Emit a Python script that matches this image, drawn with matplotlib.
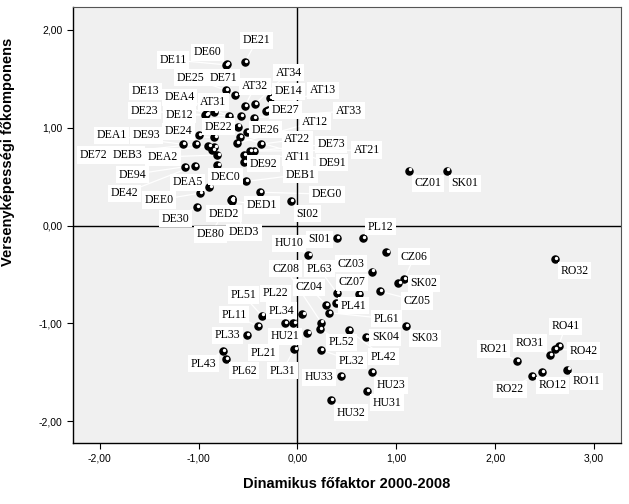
import matplotlib
matplotlib.use("Agg")
import matplotlib.pyplot as plt
from matplotlib.ticker import FuncFormatter

# region codes with their scores (x: dynamic factor, y: competitiveness component)
regions = [
    'DE21', 'DE60', 'DE11', 'DE25', 'DE71', 'AT34', 'AT32', 'DE14', 'AT13',
    'DE13', 'DEA4', 'AT31', 'DE27', 'AT33', 'DE23', 'DE12', 'AT12', 'DE22',
    'DE26', 'DEA1', 'DE93', 'DE24', 'AT22', 'DE73', 'AT21', 'DE72', 'DEB3',
    'DEA2', 'AT11', 'DE92', 'DE91', 'DEB1', 'DE94', 'DEC0', 'DEA5', 'DE42',
    'DEE0', 'DE30', 'DED2', 'DED1', 'DEG0', 'SI02', 'DE80', 'DED3', '', '',
    'CZ01', 'SK01', 'PL12', 'SI01', 'HU10', '', 'CZ06', 'CZ08', 'PL63', 'CZ03',
    'RO32', 'SK02', 'CZ07', 'CZ04', 'PL22', 'PL51', 'PL41', 'CZ05', 'PL34',
    'PL11', 'PL61', 'PL33', 'HU21', 'PL52', 'SK04', 'SK03', 'PL21', 'PL42',
    'PL43', 'PL32', 'PL62', 'PL31', 'HU33', 'HU23', 'HU31', 'HU32',
    'RO41', 'RO31', 'RO21', 'RO42', 'RO22', 'RO12', 'RO11',
]
dyn_factor = [
    -0.53, -0.71, -0.72, -0.72, -0.63, -0.43, -0.53, -0.28, -0.30,
    -0.92, -0.69, -0.84, -0.32, -0.44, -0.93, -0.57, -0.61, -0.60,
    -0.51, -1.16, -0.84, -1.00, -0.37, -0.48, -0.44, -1.03, -0.90,
    -0.81, -0.54, -0.54, -0.58, -0.52, -1.14, -0.81, -0.89, -1.04,
    -0.99, -1.02, -0.66, -0.66, -0.38, -0.07, -0.67, -0.66, -0.84, -0.86,
    1.13, 1.51, 0.66, 0.40, 0.11, 0.90, 1.08, 0.24, 0.40, 0.75,
    2.60, 1.02, 0.62, 0.29, -0.13, -0.36, 0.39, 0.83, 0.05,
    -0.40, 0.32, -0.51, 0.10, 0.23, 0.69, 1.10, -0.04, 0.52,
    -0.75, 0.24, -0.72, -0.03, 0.44, 0.75, 0.70, 0.34,
    2.64, 2.55, 2.22, 2.60, 2.37, 2.47, 2.73,
]
competitiveness = [
    1.67, 1.65, 1.64, 1.38, 1.33, 1.24, 1.22, 1.30, 1.18,
    1.14, 1.12, 1.16, 1.17, 1.10, 1.13, 1.12, 0.84, 1.01,
    0.95, 0.83, 0.90, 0.92, 0.83, 0.76, 0.76, 0.83, 0.81,
    0.72, 0.72, 0.65, 0.90, 0.45, 0.60, 0.62, 0.39, 0.61,
    0.33, 0.19, 0.27, 0.25, 0.34, 0.25, 0.26, 0.27, 0.80, 0.77,
    0.56, 0.56, -0.13, -0.13, -0.30, -0.27, -0.55, -0.99, -0.69, -0.47,
    -0.34, -0.59, -0.70, -0.81, -1.00, -0.92, -0.79, -0.67, -0.90,
    -1.03, -0.89, -1.12, -1.10, -1.06, -1.14, -1.03, -1.00, -1.07,
    -1.28, -1.27, -1.36, -1.26, -1.54, -1.50, -1.69, -1.78,
    -1.23, -1.32, -1.38, -1.26, -1.54, -1.50, -1.47,
]

# where each label box sits (data coords)
label_pos = {
    'DE21': (-0.41, 1.89), 'DE60': (-0.91, 1.77), 'DE11': (-1.26, 1.69),
    'DE25': (-1.08, 1.51), 'DE71': (-0.75, 1.51), 'AT34': (-0.09, 1.56),
    'AT32': (-0.43, 1.42), 'DE14': (-0.09, 1.37), 'AT13': (0.26, 1.38),
    'DE13': (-1.54, 1.37), 'DEA4': (-1.19, 1.31), 'AT31': (-0.85, 1.26),
    'DE27': (-0.12, 1.18), 'AT33': (0.52, 1.17), 'DE23': (-1.55, 1.17),
    'DE12': (-1.19, 1.13), 'AT12': (0.18, 1.06), 'DE22': (-0.80, 1.01),
    'DE26': (-0.32, 0.98), 'DEA1': (-1.88, 0.92), 'DE93': (-1.53, 0.92),
    'DE24': (-1.20, 0.96), 'AT22': (0.00, 0.88), 'DE73': (0.34, 0.83),
    'AT21': (0.70, 0.77), 'DE72': (-2.06, 0.72), 'DEB3': (-1.72, 0.72),
    'DEA2': (-1.36, 0.70), 'AT11': (0.00, 0.70), 'DE92': (-0.34, 0.63),
    'DE91': (0.35, 0.64), 'DEB1': (0.03, 0.52), 'DE94': (-1.67, 0.52),
    'DEC0': (-0.73, 0.50), 'DEA5': (-1.11, 0.44), 'DE42': (-1.75, 0.33),
    'DEE0': (-1.40, 0.26), 'DE30': (-1.23, 0.07), 'DED2': (-0.74, 0.12),
    'DED1': (-0.36, 0.21), 'DEG0': (0.30, 0.32), 'SI02': (0.10, 0.12),
    'DE80': (-0.88, -0.09), 'DED3': (-0.54, -0.07),
    'CZ01': (1.32, 0.43), 'SK01': (1.69, 0.43), 'PL12': (0.84, -0.01),
    'SI01': (0.22, -0.14), 'HU10': (-0.09, -0.18), 'CZ06': (1.18, -0.32),
    'CZ08': (-0.12, -0.44), 'PL63': (0.22, -0.44), 'CZ03': (0.54, -0.39),
    'RO32': (2.80, -0.46), 'SK02': (1.28, -0.59), 'CZ07': (0.55, -0.58),
    'CZ04': (0.12, -0.63), 'PL22': (-0.22, -0.69), 'PL51': (-0.55, -0.71),
    'PL41': (0.57, -0.82), 'CZ05': (1.21, -0.77), 'PL34': (-0.16, -0.87),
    'PL11': (-0.64, -0.91), 'PL61': (0.90, -0.95), 'PL33': (-0.71, -1.12),
    'HU21': (-0.13, -1.13), 'PL52': (0.45, -1.19), 'SK04': (0.89, -1.14),
    'SK03': (1.29, -1.15), 'PL21': (-0.34, -1.30), 'PL42': (0.87, -1.34),
    'PL43': (-0.95, -1.41), 'PL32': (0.55, -1.38), 'PL62': (-0.54, -1.48),
    'PL31': (-0.15, -1.48), 'HU33': (0.22, -1.55), 'HU23': (0.95, -1.63),
    'HU31': (0.91, -1.81), 'HU32': (0.54, -1.91),
    'RO41': (2.71, -1.03), 'RO31': (2.35, -1.20), 'RO21': (1.98, -1.26),
    'RO42': (2.89, -1.28), 'RO22': (2.15, -1.67), 'RO12': (2.58, -1.63),
    'RO11': (2.92, -1.59),
}

fig = plt.figure(figsize=(6.29, 5.04), dpi=100)
ax = fig.add_axes([0.116, 0.121, 0.871, 0.865])
ax.set_facecolor('#f0f0f0')

# white leader lines from each point to its label
for name, x, y in zip(regions, dyn_factor, competitiveness):
    if not name:
        continue
    lx, ly = label_pos[name]
    ax.plot([x, lx], [y, ly], color='white', lw=0.9, zorder=1)

ax.axhline(0, color='black', lw=1.0, zorder=2)
ax.axvline(0, color='black', lw=1.0, zorder=2)

ax.scatter(dyn_factor, competitiveness, s=26, color='black', zorder=3)
ax.scatter([x + 0.012 for x in dyn_factor], [y + 0.012 for y in competitiveness],
           s=2, color='white', zorder=4)

for name in regions:
    if not name:
        continue
    lx, ly = label_pos[name]
    ax.text(lx, ly, name, ha='center', va='center', fontsize=8.5,
            family='Liberation Serif', zorder=5,
            bbox=dict(boxstyle='square,pad=0.22', fc='white', ec='none'))

ax.set_xlim(-2.27, 3.27)
ax.set_ylim(-2.22, 2.23)
ax.set_xticks([-2, -1, 0, 1, 2, 3])
ax.set_yticks([-2, -1, 0, 1, 2])
fmt = FuncFormatter(lambda v, p: f'{v:.2f}'.replace('.', ','))
ax.xaxis.set_major_formatter(fmt)
ax.yaxis.set_major_formatter(fmt)
ax.tick_params(labelsize=7.5, length=4, width=0.8, direction='out')
for lab in ax.get_xticklabels() + ax.get_yticklabels():
    lab.set_family('Liberation Sans')

for side in ['left', 'bottom']:
    ax.spines[side].set_linewidth(1.0)
for side in ['right', 'top']:
    ax.spines[side].set_color('#555555')
    ax.spines[side].set_linewidth(0.8)

ax.set_xlabel('Dinamikus főfaktor 2000-2008', fontsize=10.5, fontweight='bold',
              family='Liberation Sans', labelpad=10)
ax.set_ylabel('Versenyképességi főkomponens', fontsize=10.5, fontweight='bold',
              family='Liberation Sans')
ax.yaxis.set_label_coords(-0.105, 0.667)

fig.savefig('out.png', dpi=100)
